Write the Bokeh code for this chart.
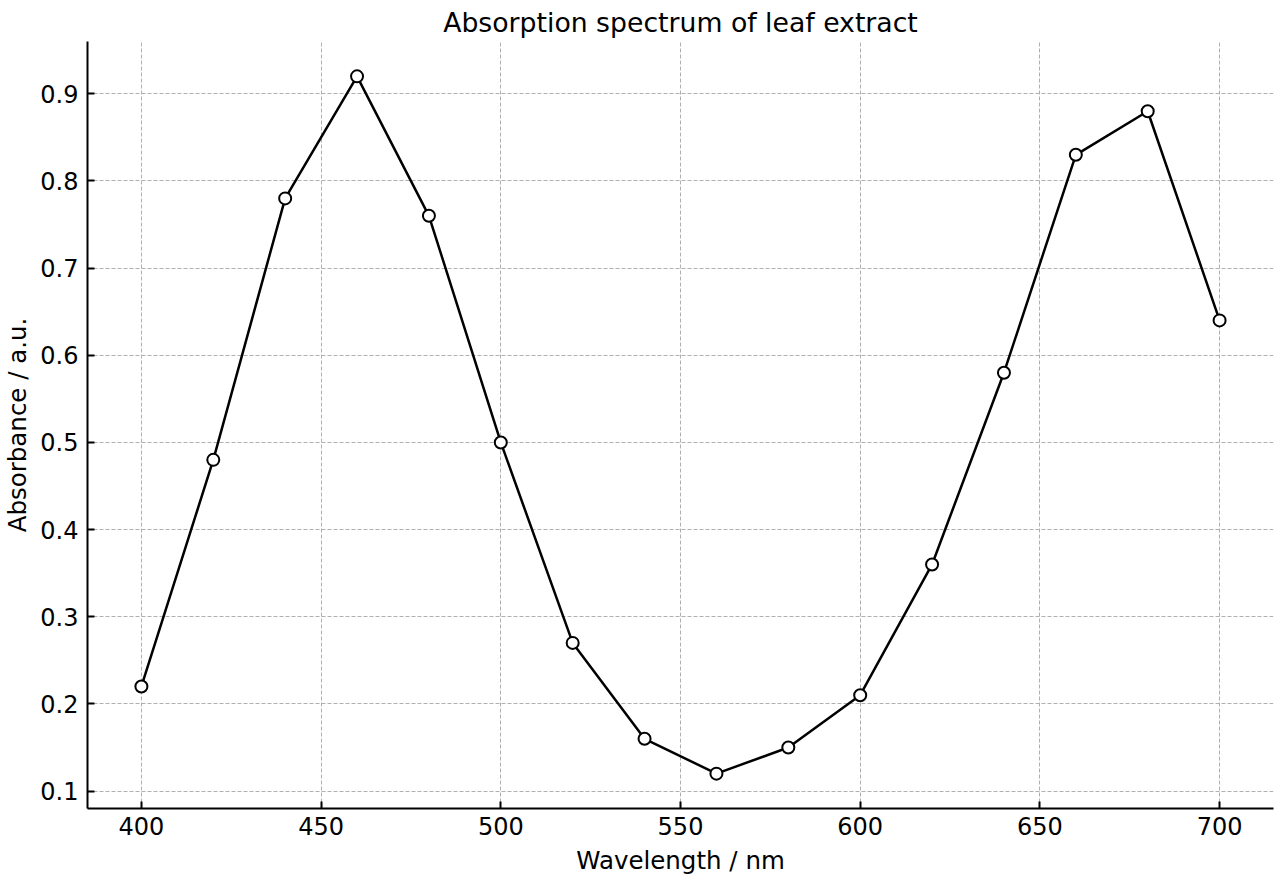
from bokeh.plotting import figure
from bokeh.models import FixedTicker, Range1d
from bokeh.embed import file_html
from bokeh.resources import INLINE

# Absorbance readings of the leaf extract
wavelength_nm = [400, 420, 440, 460, 480, 500, 520, 540, 560, 580, 600, 620, 640, 660, 680, 700]
absorbance = [0.22, 0.48, 0.78, 0.92, 0.76, 0.50, 0.27, 0.16, 0.12, 0.15, 0.21, 0.36, 0.58, 0.83, 0.88, 0.64]

x_ticks = [400, 450, 500, 550, 600, 650, 700]
y_ticks = [0.1, 0.2, 0.3, 0.4, 0.5, 0.6, 0.7, 0.8, 0.9]

FONT = "DejaVu Sans"

p = figure(
    width=1280, height=880,
    output_backend="svg", toolbar_location=None,
    x_range=Range1d(385, 715), y_range=Range1d(0.08, 0.96),
    min_border_left=86, min_border_right=7,
    min_border_top=40, min_border_bottom=72,
    title="Absorption spectrum of leaf extract",
)
p.background_fill_color = "white"
p.border_fill_color = "white"
p.outline_line_color = None

p.title.align = "center"
p.title.text_font = FONT
p.title.text_font_size = "26.7px"
p.title.text_font_style = "normal"
p.title.text_color = "black"
p.title.standoff = 8
p.title.offset = 0

p.xaxis.axis_label = "Wavelength / nm"
p.yaxis.axis_label = "Absorbance / a.u."
p.xaxis.ticker = FixedTicker(ticks=x_ticks)
p.yaxis.ticker = FixedTicker(ticks=y_ticks)

for ax in (p.xaxis, p.yaxis):
    ax.axis_label_text_font = FONT
    ax.axis_label_text_font_size = "24.5px"
    ax.axis_label_text_font_style = "normal"
    ax.axis_label_text_color = "black"
    ax.major_label_text_font = FONT
    ax.major_label_text_font_size = "24px"
    ax.major_label_text_color = "black"
    ax.axis_line_width = 2
    ax.axis_line_color = "black"
    ax.major_tick_in = 7
    ax.major_tick_out = 0
    ax.major_tick_line_width = 2
    ax.major_tick_line_color = "black"
    ax.minor_tick_line_color = None

p.yaxis.major_label_standoff = 9
p.yaxis.axis_label_standoff = 5
p.xaxis.major_label_standoff = 8
p.xaxis.axis_label_standoff = 8

p.xgrid.grid_line_color = "#b0b0b0"
p.ygrid.grid_line_color = "#b0b0b0"
p.xgrid.grid_line_dash = "4 2"
p.ygrid.grid_line_dash = "4 2"
p.xgrid.grid_line_width = 1
p.ygrid.grid_line_width = 1

p.line(wavelength_nm, absorbance, line_color="black", line_width=2.5)
p.scatter(wavelength_nm, absorbance, size=12, marker="circle",
          fill_color="white", line_color="black", line_width=2)

open("out.html", "w").write(file_html(p, INLINE))
